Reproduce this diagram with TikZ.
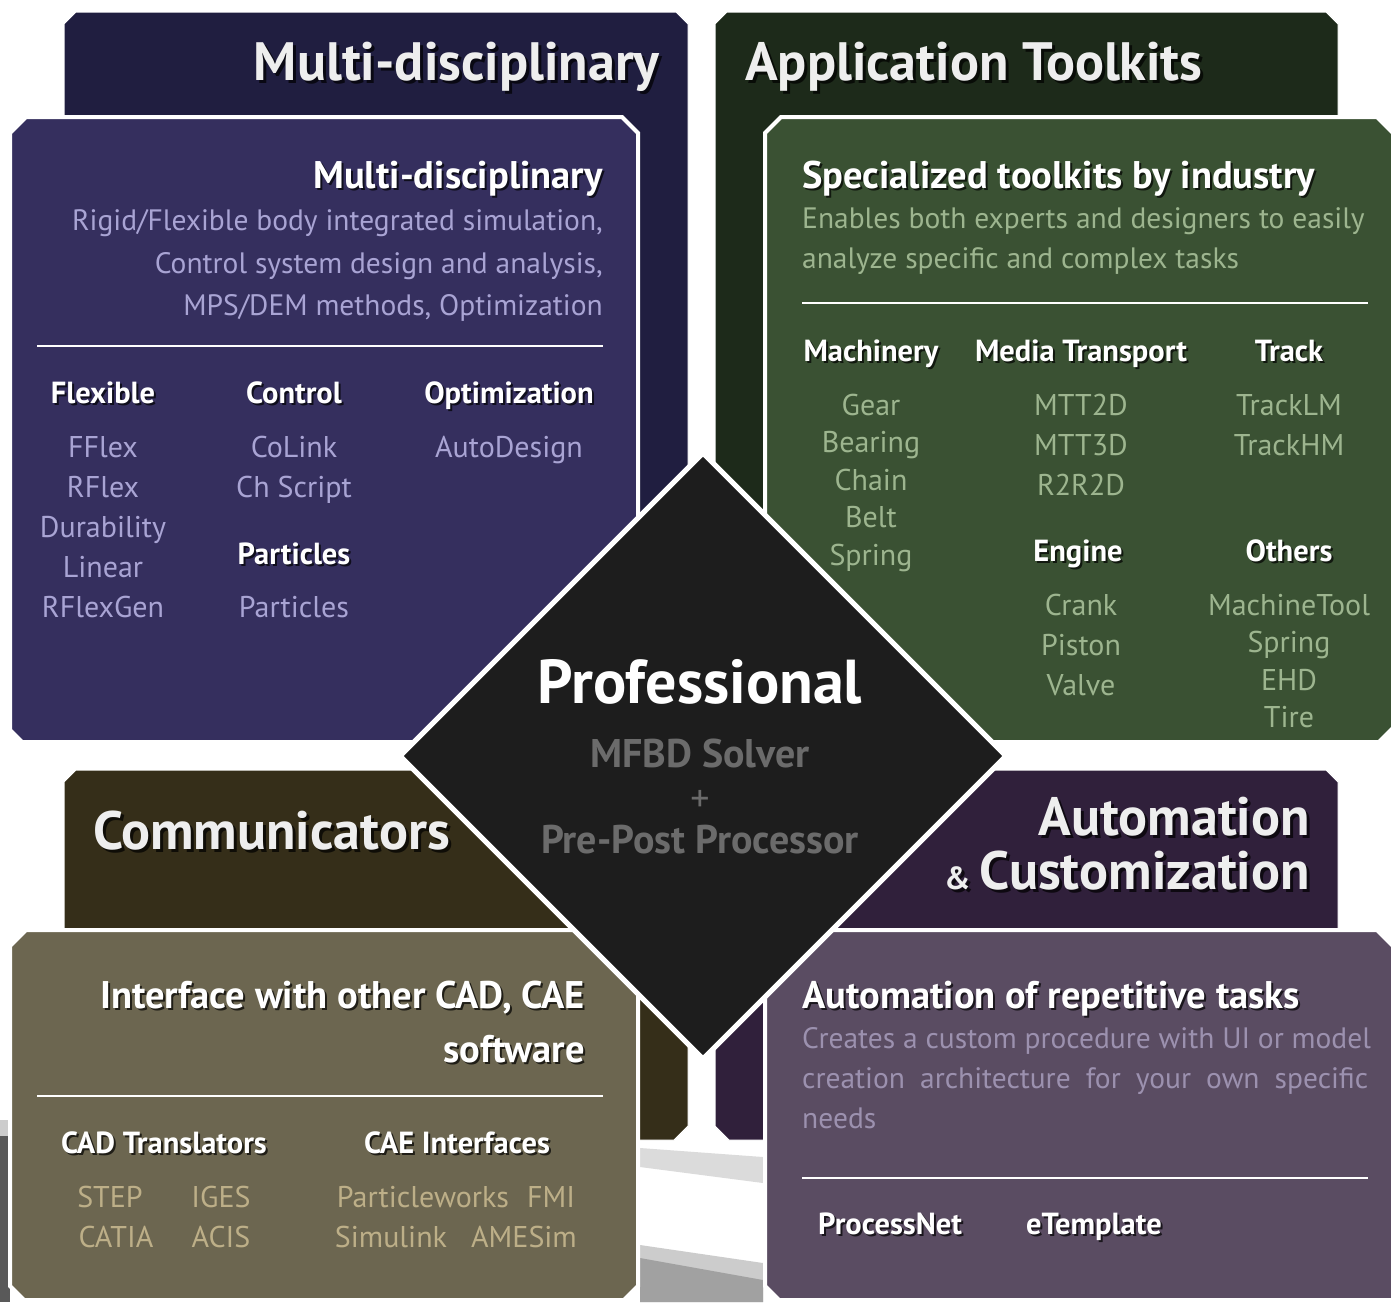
\documentclass[tikz,border=0pt]{standalone}
\usepackage{fontspec}
\setmainfont{PT Sans}

\definecolor{mdback}{HTML}{201E40}
\definecolor{mdfront}{HTML}{352F5E}
\definecolor{mdtext}{HTML}{A9A4D4}
\definecolor{atback}{HTML}{1D2A1A}
\definecolor{atfront}{HTML}{3A5133}
\definecolor{attext}{HTML}{9DB58F}
\definecolor{cmback}{HTML}{352E19}
\definecolor{cmfront}{HTML}{6C6650}
\definecolor{cmtext}{HTML}{BDAF88}
\definecolor{acback}{HTML}{30203B}
\definecolor{acfront}{HTML}{5A4C62}
\definecolor{actext}{HTML}{9C91AF}
\definecolor{coreback}{HTML}{1D1D1D}
\definecolor{coretext}{HTML}{6B6B6B}
\definecolor{titlecol}{HTML}{EEEEEE}

\tikzset{
  backpanel/.style={draw=white, line width=1pt},
  frontpanel/.style={draw=white, line width=4pt},
  bigtitle/.style={inner sep=0pt, font=\fontsize{54}{58}\selectfont\bfseries, text=titlecol},
  headline/.style={inner sep=0pt, font=\fontsize{38.5}{42}\selectfont\bfseries, text=white},
  desc/.style={inner sep=0pt, font=\fontsize{29.5}{33}\selectfont},
  colhead/.style={inner sep=0pt, anchor=base, font=\fontsize{30.5}{34}\selectfont\bfseries, text=white},
  item/.style={inner sep=0pt, anchor=base, font=\fontsize{30}{34}\selectfont},
  rule/.style={draw=white, line width=2pt},
}

% text with a drop shadow: [offset]{name}{style}{position}{text}
\newcommand{\shtext}[5][3pt]{%
  \node[#3, text=black, opacity=.7, xshift=#1, yshift=-#1] (#2-sh) at (#4) {#5};
  \node[#3] (#2) at (#4) {#5};
}

\begin{document}
\begin{tikzpicture}[x=1pt, y=-1pt]
  \fill[white] (0,0) rectangle (1397,1302);
  \useasboundingbox (0,0) rectangle (1397,1302);

  % faint background
  \fill[black!14] (640,1148) -- (763,1157) -- (763,1183) -- (640,1167) -- cycle;
  \fill[black!20] (640,1245) -- (763,1263) -- (763,1302) -- (640,1302) -- cycle;
  \fill[black!37] (640,1258) -- (763,1280) -- (763,1302) -- (640,1302) -- cycle;
  \fill[black!20] (0,1120) rectangle (10,1302);
  \fill[black!65] (0,1136) rectangle (10,1302);

  % back panels
  \filldraw[backpanel, fill=mdback] (64,24) -- (76,12) -- (676,12) -- (688,24) -- (688,700) -- (64,700) -- cycle;
  \filldraw[backpanel, fill=atback] (715,24) -- (727,12) -- (1326,12) -- (1338,24) -- (1338,700) -- (715,700) -- cycle;
  \filldraw[backpanel, fill=cmback] (64,782) -- (76,770) -- (676,770) -- (688,782) -- (688,1126) -- (674,1140) -- (64,1140) -- cycle;
  \filldraw[backpanel, fill=acback] (715,770) -- (1326,770) -- (1338,782) -- (1338,1140) -- (729,1140) -- (715,1126) -- cycle;

  % front panels
  \filldraw[frontpanel, fill=mdfront] (10,133) -- (26,117) -- (622,117) -- (638,133) -- (638,742) -- (22,742) -- (10,730) -- cycle;
  \filldraw[frontpanel, fill=atfront] (765,133) -- (781,117) -- (1377,117) -- (1393,133) -- (1393,728) -- (1379,742) -- (765,742) -- cycle;
  \filldraw[frontpanel, fill=cmfront] (10,946) -- (26,930) -- (622,930) -- (638,946) -- (638,1286) -- (624,1300) -- (24,1300) -- (10,1286) -- cycle;
  \filldraw[frontpanel, fill=acfront] (765,946) -- (781,930) -- (1377,930) -- (1393,946) -- (1393,1300) -- (779,1300) -- (765,1286) -- cycle;

  % panel titles
  \shtext{mdtitle}{bigtitle, anchor=base east}{660,80}{Multi-disciplinary}
  \shtext{attitle}{bigtitle, anchor=base west}{745,80}{Application Toolkits}
  \shtext{cmtitle}{bigtitle, anchor=base west}{93,849}{Communicators}
  \shtext{actitle}{bigtitle, anchor=base east}{1310,835}{Automation}
  \shtext{actitleb}{bigtitle, anchor=base east}{1310,889}{{\fontsize{32}{32}\selectfont\&}\,Customization}

  % Multi-disciplinary
  \shtext[2pt]{mdhead}{headline, anchor=base east}{603,188}{Multi-disciplinary}
  \node[desc, text=mdtext, anchor=base east] (mddesc1) at (603,230) {Rigid/Flexible body integrated simulation,};
  \node[desc, text=mdtext, anchor=base east] (mddesc2) at (603,273) {Control system design and analysis,};
  \node[desc, text=mdtext, anchor=base east] (mddesc3) at (603,315) {MPS/DEM methods, Optimization};
  \draw[rule] (37,346) -- (603,346);
  \shtext[2pt]{flexhead}{colhead}{103,403}{Flexible}
  \shtext[2pt]{ctrlhead}{colhead}{294,403}{Control}
  \shtext[2pt]{opthead}{colhead}{509,403}{Optimization}
  \shtext[2pt]{parthead}{colhead}{294,564}{Particles}
  \foreach \txt [count=\i] in {FFlex,RFlex,Durability,Linear,RFlexGen}
    \node[item, text=mdtext] (flex\i) at (103,{417+40*\i}) {\txt};
  \foreach \txt [count=\i] in {CoLink,Ch Script}
    \node[item, text=mdtext] (ctrl\i) at (294,{417+40*\i}) {\txt};
  \node[item, text=mdtext] (part1) at (294,617) {Particles};
  \node[item, text=mdtext] (opt1) at (509,457) {AutoDesign};

  % Application Toolkits
  \shtext[2pt]{athead}{headline, anchor=base west}{802,188}{Specialized toolkits by industry}
  \node[desc, text=attext, anchor=base west] (atdesc1) at (802,228) {Enables both experts and designers to easily};
  \node[desc, text=attext, anchor=base west] (atdesc2) at (802,268) {analyze specific and complex tasks};
  \draw[rule] (802,303) -- (1368,303);
  \shtext[2pt]{machead}{colhead}{871,361}{Machinery}
  \shtext[2pt]{mediahead}{colhead}{1081,361}{Media Transport}
  \shtext[2pt]{trackhead}{colhead}{1289,361}{Track}
  \shtext[2pt]{enghead}{colhead}{1078,561}{Engine}
  \shtext[2pt]{othhead}{colhead}{1289,561}{Others}
  \foreach \txt [count=\i] in {Gear,Bearing,Chain,Belt,Spring}
    \node[item, text=attext] (mach\i) at (871,{377.5+37.5*\i}) {\txt};
  \foreach \txt [count=\i] in {MTT2D,MTT3D,R2R2D}
    \node[item, text=attext] (media\i) at (1081,{375+40*\i}) {\txt};
  \foreach \txt [count=\i] in {TrackLM,TrackHM}
    \node[item, text=attext] (track\i) at (1289,{375+40*\i}) {\txt};
  \foreach \txt [count=\i] in {Crank,Piston,Valve}
    \node[item, text=attext] (eng\i) at (1081,{575+40*\i}) {\txt};
  \foreach \txt [count=\i] in {MachineTool,Spring,EHD,Tire}
    \node[item, text=attext] (oth\i) at (1289,{577.5+37.5*\i}) {\txt};

  % Communicators
  \shtext[2pt]{cmhead}{headline, anchor=base east}{585,1008}{Interface with other CAD, CAE}
  \shtext[2pt]{cmheadb}{headline, anchor=base east}{585,1062}{software}
  \draw[rule] (37,1096) -- (603,1096);
  \shtext[2pt]{cadhead}{colhead}{164,1153}{CAD Translators}
  \shtext[2pt]{caehead}{colhead}{457,1153}{CAE Interfaces}
  \node[item, text=cmtext] (step) at (110,1207) {STEP};
  \node[item, text=cmtext] (iges) at (221,1207) {IGES};
  \node[item, text=cmtext] (catia) at (116,1247) {CATIA};
  \node[item, text=cmtext] (acis) at (221,1247) {ACIS};
  \node[item, text=cmtext] (pworks) at (423,1207) {Particleworks};
  \node[item, text=cmtext] (fmi) at (551,1207) {FMI};
  \node[item, text=cmtext] (simulink) at (391,1247) {Simulink};
  \node[item, text=cmtext] (amesim) at (524,1247) {AMESim};

  % Automation & Customization
  \shtext[2pt]{achead}{headline, anchor=base west}{802,1008}{Automation of repetitive tasks}
  \node[desc, text=actext, anchor=base west] (acdesc1) at (802,1048) {Creates a custom procedure with UI or model};
  \node[desc, text=actext, anchor=base west] (acdesc2) at (802,1088) {\makebox[566pt][s]{creation architecture for your own specific}};
  \node[desc, text=actext, anchor=base west] (acdesc3) at (802,1128) {needs};
  \draw[rule] (802,1178) -- (1368,1178);
  \shtext[2pt]{procnet}{colhead, anchor=base west}{818,1234}{ProcessNet}
  \shtext[2pt]{etempl}{colhead, anchor=base west}{1026,1234}{eTemplate}

  % core diamond
  \filldraw[draw=white, line width=5pt, fill=coreback, rounded corners=3pt]
    (703,453) -- (1006,756) -- (703,1059) -- (400,756) -- cycle;
  \node[inner sep=0pt, anchor=base, font=\fontsize{62}{66}\selectfont\bfseries, text=white] (prof) at (700,703) {Professional};
  \node[inner sep=0pt, anchor=base, font=\fontsize{40}{44}\selectfont\bfseries, text=coretext] (solver) at (700,767) {MFBD Solver};
  \node[inner sep=0pt, anchor=base, font=\fontsize{38}{42}\selectfont, text=coretext] (plus) at (700,811) {+};
  \node[inner sep=0pt, anchor=base, font=\fontsize{40}{44}\selectfont\bfseries, text=coretext] (prepost) at (700,853) {Pre-Post Processor};
\end{tikzpicture}
\end{document}
